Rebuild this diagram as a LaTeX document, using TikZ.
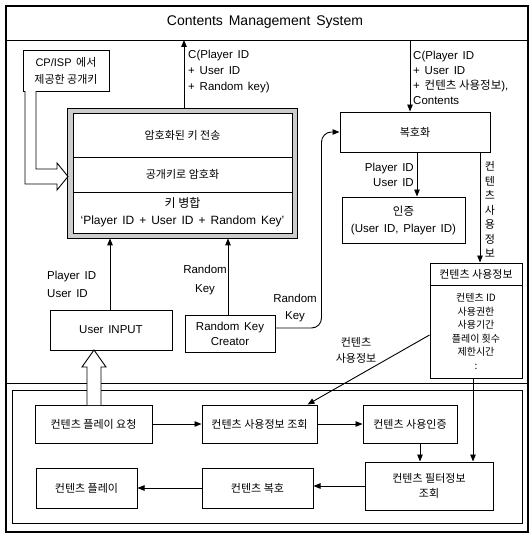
\documentclass[tikz,border=0pt]{standalone}
\usepackage{fontspec}
\setmainfont[WordSpace=1.5]{Liberation Sans}
\newfontfamily\krfont{Noto Sans CJK KR}
\newcommand\kr[1]{{\krfont #1}}
\usetikzlibrary{arrows.meta}
\begin{document}
\begin{tikzpicture}[x=1pt,y=-1pt,
  box/.style={draw, line width=1pt, fill=white, inner sep=0pt, align=center, font=\krfont\fontsize{11}{15}\selectfont},
  conn/.style={draw, line width=0.9pt, -{Triangle[length=7pt,width=5.5pt]}},
  lat/.style={inner sep=0pt, font=\fontsize{11.5}{15}\selectfont},
  kor/.style={inner sep=0pt, font=\krfont\fontsize{11}{15}\selectfont},
  openarrow/.style={draw, line width=0.9pt, fill=white, line join=miter}
]
\useasboundingbox (0,0) rectangle (531,535);
% frames
\draw[line width=1.2pt] (6,6) rectangle (528,532);
\draw[line width=0.8pt] (6,40) -- (528,40);
\draw[line width=0.6pt] (6,383) -- (528,383);
\draw[line width=0.6pt] (12,390) rectangle (522,523);
\node[inner sep=0pt, font=\fontsize{14}{16}\selectfont] (title) at (265,22) {Contents Management System};
\coordinate (up1) at (184,40);
\coordinate (dn1) at (410,40);

% CP/ISP key box
\node[box, minimum width=86pt, minimum height=40pt, font=\fontsize{11}{17}\selectfont] (CP) at (66,71) {CP/ISP \kr{에서}\\\kr{제공한 공개키}};

% encryption block
\node[draw, line width=0.8pt, fill=gray!40, minimum width=230pt, minimum height=130pt, inner sep=0pt] (ENC) at (182,173) {};
\node[box, minimum width=219pt, minimum height=44pt] (R1) at (182.5,135) {암호화된 키 전송};
\node[box, minimum width=219pt, minimum height=35pt] (R2) at (182.5,174.5) {공개키로 암호화};
\node[box, minimum width=219pt, minimum height=41pt, font=\fontsize{12}{17}\selectfont] (R3) at (182.5,212.5) {\kr{키 병합}\\`Player ID + User ID + Random Key'};

% open arrow from CP/ISP box into the encryption block
\path[openarrow] (25,91) -- (25,184) -- (57,184) -- (57,190) -- (68,176.5) -- (57,163) -- (57,169) -- (36,169) -- (36,91);

% decryption side
\node[box, minimum width=150pt, minimum height=40pt] (DEC) at (415,132) {복호화};
\node[box, minimum width=123pt, minimum height=46pt, font=\fontsize{11.5}{17}\selectfont] (AUTH) at (403.5,220) {\kr{인증}\\(User ID, Player ID)};
\node[box, minimum width=92pt, minimum height=22pt] (INFOH) at (476,274) {컨텐츠 사용정보};
\node[box, minimum width=92pt, minimum height=93pt, font=\krfont\fontsize{10}{13.5}\selectfont] (INFOB) at (476,331.5) {컨텐츠 ID\\사용권한\\사용기간\\플레이 횟수\\제한시간\\:};

% user side
\node[box, minimum width=122pt, minimum height=40pt, font=\fontsize{11.5}{15}\selectfont] (UI) at (111,330) {User INPUT};
\node[box, minimum width=90pt, minimum height=37pt, font=\fontsize{11.5}{15}\selectfont] (RK) at (230,333.5) {Random Key\\Creator};

% bottom process
\node[box, minimum width=117pt, minimum height=38pt] (A) at (93.5,424) {컨텐츠 플레이 요청};
\node[box, minimum width=115pt, minimum height=38pt] (B) at (259.5,424) {컨텐츠 사용정보 조회};
\node[box, minimum width=94pt, minimum height=38pt] (C) at (410,424) {컨텐츠 사용인증};
\node[box, minimum width=128pt, minimum height=48pt] (D) at (429,486) {컨텐츠 필터정보\\조회};
\node[box, minimum width=111pt, minimum height=40pt] (E) at (257.5,488) {컨텐츠 복호};
\node[box, minimum width=101pt, minimum height=40pt] (F) at (86.5,488) {컨텐츠 플레이};

% open arrow from play request to user input
\path[openarrow] (87,405) -- (87,367) -- (82,367) -- (94,350) -- (106,367) -- (101,367) -- (101,405);

% connectors
\draw[conn] (ENC.north -| up1) -- (up1);
\node[lat, anchor=west, align=left, font=\fontsize{11.5}{16}\selectfont] (lab1) at (188,72) {C(Player ID\\+ User ID\\+ Random key)};
\draw[conn] (dn1) -- (dn1 |- DEC.north);
\node[lat, anchor=west, align=left] (lab2) at (413,77.5) {C(Player ID\\+ User ID\\+ \kr{컨텐츠 사용정보}),\\Contents};
\draw[conn] ([xshift=2pt]DEC.south) -- ([xshift=2pt]DEC.south |- AUTH.north);
\node[lat, anchor=east, align=right] (lab3) at (414,175) {Player ID\\User ID};
\draw[conn] ([xshift=4pt]INFOH.north |- DEC.south) -- ([xshift=4pt]INFOH.north);
\node[kor, align=center, font=\krfont\fontsize{11}{14.5}\selectfont] (lab4) at (490,209.5) {컨\\텐\\츠\\사\\용\\정\\보};

\draw[conn] ([xshift=-1pt]UI.north) -- ([xshift=-1pt]UI.north |- ENC.south);
\node[lat, anchor=west, align=left, font=\fontsize{11.5}{18}\selectfont] (lab5) at (47,284) {Player ID\\User ID};
\draw[conn] ([xshift=-2pt]RK.north) -- ([xshift=-2pt]RK.north |- ENC.south);
\node[lat, align=center, font=\fontsize{11.5}{19}\selectfont] (lab6) at (205,280) {Random\\Key};
\draw[conn, rounded corners=10pt] ([yshift=5.5pt]RK.east) -| ([xshift=-18pt]DEC.west) -- (DEC.west);
\node[lat, align=center, font=\fontsize{11.5}{17}\selectfont] (lab7) at (295,308) {Random\\Key};

\draw[conn] ([yshift=-3.5pt]INFOB.west) -- ([xshift=48pt]B.north);
\node[kor, align=center, font=\krfont\fontsize{11}{16}\selectfont] (lab8) at (356,350) {컨텐츠\\사용정보};
\draw[conn] ([xshift=-3pt]INFOB.south) -- ([xshift=-3pt]INFOB.south |- D.north);

\draw[conn] (A) -- (B);
\draw[conn] (B) -- (C);
\draw[conn] ([xshift=10pt]C.south) -- ([xshift=10pt]C.south |- D.north);
\draw[conn] (D.west) -- (D.west -| E.east);
\draw[conn] (E) -- (F);
\end{tikzpicture}
\end{document}
